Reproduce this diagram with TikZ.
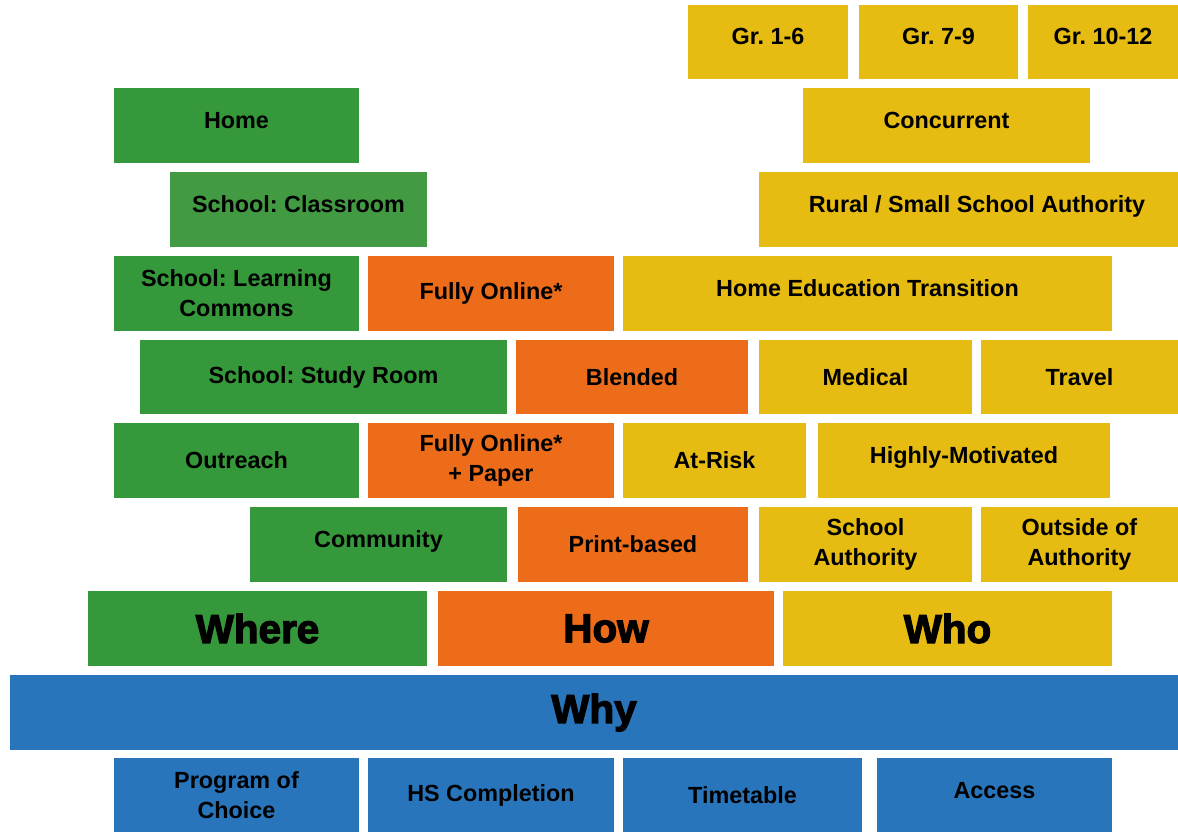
\documentclass[tikz,border=0pt]{standalone}
\usepackage{fontspec}
\setmainfont{Liberation Sans}
\newfontfamily\heavyfont{Liberation Sans Bold}[FakeBold=3]
\frenchspacing

\definecolor{green1}{RGB}{53,152,58}
\definecolor{green2}{RGB}{66,155,66}
\definecolor{orange1}{RGB}{236,108,26}
\definecolor{yellow1}{RGB}{230,188,18}
\definecolor{blue1}{RGB}{40,117,188}

\tikzstyle{brick} = [rectangle, inner sep=0pt, minimum height=1.5cm, align=center, font=\bfseries\fontsize{13.3}{17}\selectfont]
\tikzstyle{lift} = [text depth=6pt]
\tikzstyle{where} = [brick, fill=green1]
\tikzstyle{how} = [brick, fill=orange1]
\tikzstyle{who} = [brick, fill=yellow1]
\tikzstyle{why} = [brick, fill=blue1]
\tikzstyle{head} = [font=\heavyfont\fontsize{23}{24}\selectfont]

\begin{document}
\begin{tikzpicture}[x=0.02cm, y=-0.02cm]
  \useasboundingbox (0,0) rectangle (1178,832);
  \clip (0,0) rectangle (1178,832);

  % who: grades
  \node [who, lift, minimum width=3.2cm, minimum height=1.48cm] (gr1) at (768,42) {Gr. 1-6};
  \node [who, lift, minimum width=3.18cm, minimum height=1.48cm] (gr2) at (938.5,42) {Gr. 7-9};
  \node [who, lift, minimum width=3.0cm, minimum height=1.48cm] (gr3) at (1103,42) {Gr. 10-12};

  % where
  \node [where, lift, minimum width=4.9cm] (home) at (236.5,125.5) {Home};
  \node [brick, lift, fill=green2, minimum width=5.14cm] (classroom) at (298.5,209.5) {School: Classroom};
  \node [where, minimum width=4.9cm] (commons) at (236.5,293.5) {School: Learning\\Commons};
  \node [where, minimum width=7.34cm] (studyroom) at (323.5,377) {School: Study Room};
  \node [where, minimum width=4.9cm] (outreach) at (236.5,460.5) {Outreach};
  \node [where, lift, minimum width=5.14cm] (community) at (378.5,544.5) {Community};

  % how
  \node [how, minimum width=4.92cm] (online) at (491,293.5) {Fully Online*};
  \node [how, minimum width=4.64cm] (blended) at (632,377) {Blended};
  \node [how, minimum width=4.92cm] (paper) at (491,460.5) {Fully Online*\\+ Paper};
  \node [how, minimum width=4.6cm] (print) at (633,544.5) {Print-based};

  % who
  \node [who, lift, minimum width=5.74cm] (concurrent) at (946.5,125.5) {Concurrent};
  \node [who, lift, minimum width=8.72cm] (rural) at (977,209.5) {Rural / Small School Authority};
  \node [who, lift, minimum width=9.78cm] (transition) at (867.5,293.5) {Home Education Transition};
  \node [who, minimum width=4.26cm] (medical) at (865.5,377) {Medical};
  \node [who, minimum width=3.94cm] (travel) at (1079.5,377) {Travel};
  \node [who, minimum width=3.66cm] (atrisk) at (714.5,460.5) {At-Risk};
  \node [who, lift, minimum width=5.84cm] (motivated) at (964,460.5) {Highly-Motivated};
  \node [who, minimum width=4.26cm] (authority) at (865.5,544.5) {School\\Authority};
  \node [who, minimum width=3.94cm] (outside) at (1079.5,544.5) {Outside of\\Authority};

  % headings
  \node [where, head, minimum width=6.78cm] (whereHead) at (257.5,628.5) {Where};
  \node [how, head, minimum width=6.72cm] (howHead) at (606,628.5) {How};
  \node [who, head, minimum width=6.58cm] (whoHead) at (947.5,628.5) {Who};
  \node [why, head, minimum width=23.36cm] (whyHead) at (594,712.5) {Why};

  % why
  \node [why, minimum width=4.9cm] (choice) at (236.5,795.5) {Program of\\Choice};
  \node [why, minimum width=4.92cm] (completion) at (491,795.5) {HS Completion};
  \node [why, minimum width=4.78cm] (timetable) at (742.5,795.5) {Timetable};
  \node [why, lift, minimum width=4.7cm] (access) at (994.5,795.5) {Access};
\end{tikzpicture}
\end{document}
